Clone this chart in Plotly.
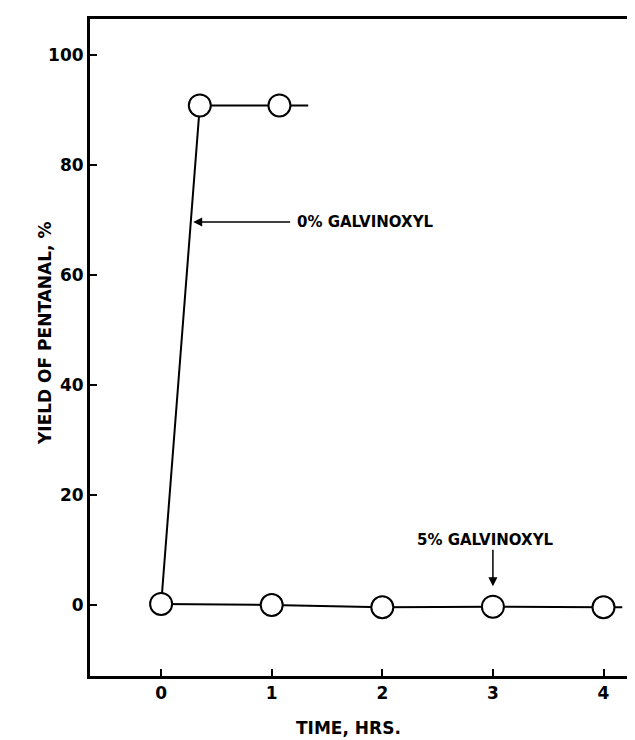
import plotly.graph_objects as go

# Data
time_0pct = [0.0, 0.35, 1.07]
yield_0pct = [0.0, 90.8, 90.8]
tail_0pct = (1.33, 90.8)

time_5pct = [0.0, 1.0, 2.0, 3.0, 4.0]
yield_5pct = [0.2, 0.0, -0.4, -0.3, -0.4]
tail_5pct = (4.17, -0.4)

x_ticks = [0, 1, 2, 3, 4]
y_ticks = [0, 20, 40, 60, 80, 100]

FONT = "DejaVu Sans"
ink = "black"

W, H = 635, 740
L, R, T, B = 82, 3, 11, 72
pw, ph = W - L - R, H - T - B


def px_x(p):
    return (p - L) / pw


def px_y(p):
    return (H - B - p) / ph


fig = go.Figure()

fig.add_trace(go.Scatter(
    x=time_0pct + [tail_0pct[0]], y=yield_0pct + [tail_0pct[1]],
    mode="lines", line=dict(color=ink, width=2), showlegend=False, hoverinfo="skip"))
fig.add_trace(go.Scatter(
    x=time_5pct + [tail_5pct[0]], y=yield_5pct + [tail_5pct[1]],
    mode="lines", line=dict(color=ink, width=2), showlegend=False, hoverinfo="skip"))
fig.add_trace(go.Scatter(
    x=time_0pct[1:], y=yield_0pct[1:], mode="markers",
    marker=dict(symbol="circle", size=22, color="white", line=dict(color=ink, width=2)),
    showlegend=False))
fig.add_trace(go.Scatter(
    x=time_5pct, y=yield_5pct, mode="markers",
    marker=dict(symbol="circle", size=22, color="white", line=dict(color=ink, width=2)),
    showlegend=False))

lab_font = dict(family=FONT, size=15, color=ink, weight="bold")

fig.add_annotation(
    x=0.29, y=69.6, ax=1.18, ay=69.6, xref="x", yref="y", axref="x", ayref="y",
    text="", showarrow=True, arrowhead=2, arrowsize=1.2, arrowwidth=1.5, arrowcolor=ink)
fig.add_annotation(
    x=1.21, y=69.6, xref="x", yref="y", text="0% GALVINOXYL", showarrow=False,
    xanchor="left", yanchor="middle", font=lab_font)
fig.add_annotation(
    x=3.0, y=3.4, ax=3.0, ay=10.3, xref="x", yref="y", axref="x", ayref="y",
    text="", showarrow=True, arrowhead=2, arrowsize=1.2, arrowwidth=1.5, arrowcolor=ink)
fig.add_annotation(
    x=2.93, y=11.8, xref="x", yref="y", text="5% GALVINOXYL", showarrow=False,
    xanchor="center", yanchor="middle", font=lab_font)

fig.add_annotation(
    x=px_x(25), y=px_y(326), xref="paper", yref="paper", text="YIELD OF PENTANAL, %",
    showarrow=False, textangle=-90, font=dict(family=FONT, size=17, color=ink, weight="bold"))
fig.add_annotation(
    x=px_x(340), y=px_y(732), xref="paper", yref="paper", text="TIME, HRS.",
    showarrow=False, font=dict(family=FONT, size=17, color=ink, weight="bold"))

tick_font = dict(family=FONT, size=17, color=ink, weight="bold")

fig.update_layout(
    width=W, height=H,
    margin=dict(l=L, r=R, t=T, b=B, pad=0, autoexpand=False),
    paper_bgcolor="white", plot_bgcolor="white",
    font=dict(family=FONT, size=16, color=ink),
    xaxis=dict(range=[-0.643, 4.33], tickvals=x_ticks, ticktext=[str(v) for v in x_ticks],
               showgrid=False, zeroline=False, showline=True, mirror=True, automargin=False,
               linecolor=ink, linewidth=3, ticks="inside", ticklen=7, tickwidth=2,
               tickcolor=ink, tickfont=tick_font),
    yaxis=dict(range=[-12.9, 106.5], tickvals=y_ticks, ticktext=[str(v) for v in y_ticks],
               showgrid=False, zeroline=False, showline=True, mirror=True, automargin=False,
               linecolor=ink, linewidth=3, ticks="inside", ticklen=7, tickwidth=2,
               tickcolor=ink, tickfont=tick_font),
)

fig.write_html("out.html")
